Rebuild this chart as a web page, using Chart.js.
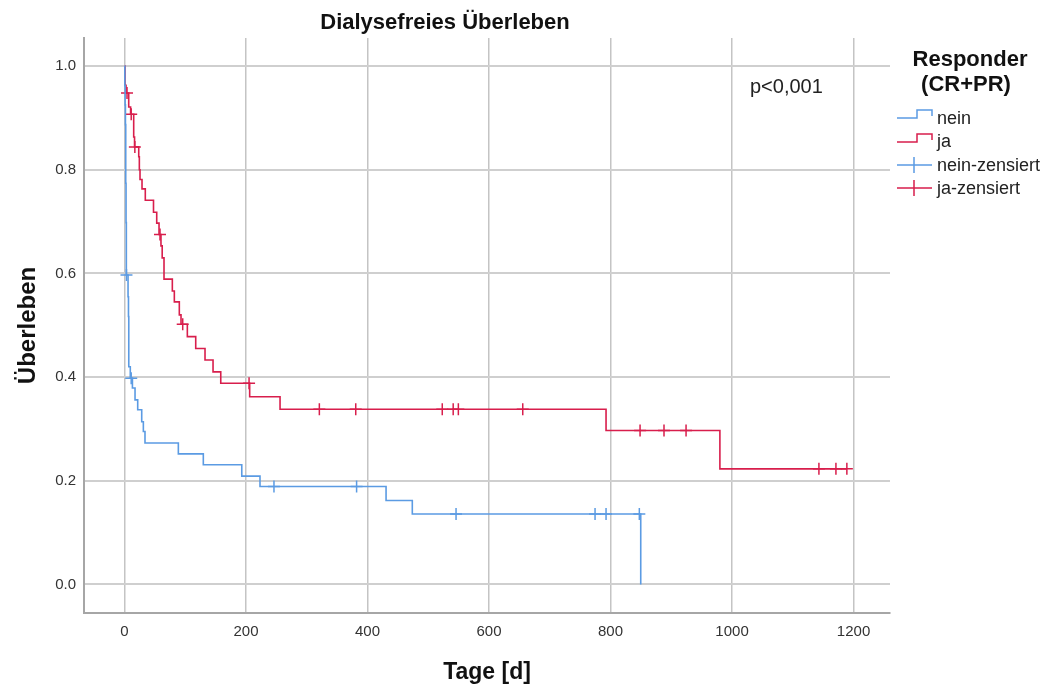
<!DOCTYPE html>
<html>
<head>
<meta charset="utf-8">
<script src="https://cdn.jsdelivr.net/npm/chart.js@4.4.1/dist/chart.umd.min.js"></script>
<style>
  html, body { margin: 0; padding: 0; background: #fff; }
  #wrap { width: 1051px; height: 688px; }
</style>
</head>
<body>
<div id="wrap"><canvas id="kmChart"></canvas></div>
<script>
// Kaplan-Meier steps: day of the step, survival after it
const neinTimes = [0, 0.5, 1, 1.5, 2, 2.5, 3, 5.8, 6.5, 7, 9.5, 13, 17.3, 21.7, 28.3, 31, 33.7, 88.6, 129.7, 193, 223, 430.5, 473.7, 849.7];
const neinSurv  = [1.0, 0.962, 0.925, 0.887, 0.774, 0.698, 0.597, 0.555, 0.517, 0.42, 0.398, 0.379, 0.356, 0.337, 0.314, 0.295, 0.273, 0.252, 0.231, 0.209, 0.189, 0.162, 0.136, 0.0];
const neinCensored = [3.2, 11, 246, 382, 545.7, 774.5, 792.6, 847.4];

const jaTimes = [0, 0.8, 2.5, 6.9, 10, 15.1, 16.5, 23.4, 24.4, 25.5, 28.8, 34.2, 47.7, 53, 56.8, 60, 62, 65, 78.7, 82, 90.2, 93, 103.4, 117.2, 132.5, 145.7, 158.4, 206, 256, 792.6, 980];
const jaSurv  = [1.0, 0.963, 0.948, 0.921, 0.907, 0.863, 0.844, 0.825, 0.80, 0.781, 0.763, 0.741, 0.718, 0.697, 0.675, 0.653, 0.630, 0.589, 0.566, 0.545, 0.520, 0.502, 0.478, 0.455, 0.433, 0.410, 0.388, 0.362, 0.338, 0.297, 0.223];
const jaCensored = [4.1, 11, 17, 58.4, 95.8, 205, 320.7, 380.6, 523, 541, 549.5, 655.5, 848.6, 888, 924.3, 1143, 1171, 1189];

const xTicks = [0, 200, 400, 600, 800, 1000, 1200];
const yTicks = [0, 0.2, 0.4, 0.6, 0.8, 1.0];

const blue = '#5b9be3';
const red = '#d81e4c';
const fontFamily = '"Liberation Sans", Arial, sans-serif';

function survAt(times, surv, t) {
    let s = surv[0];
    for (let i = 0; i < times.length; i++) {
        if (times[i] <= t) s = surv[i];
    }
    return s;
}

function stepPoints(times, surv, censored) {
    const pts = times.map((t, i) => ({ x: t, y: surv[i] }));
    const lastCens = Math.max(...censored);
    if (lastCens > times[times.length - 1]) {
        pts.push({ x: lastCens, y: surv[surv.length - 1] });
    }
    return pts;
}

function censPoints(times, surv, censored) {
    return censored.map(t => ({ x: t, y: survAt(times, surv, t) }));
}

// legend, p value
const overlayPlugin = {
    id: 'overlay',
    afterDraw(chart) {
        const ctx = chart.ctx;
        const r = chart.chartArea.right;
        ctx.save();
        ctx.fillStyle = '#222';
        ctx.font = '20px ' + fontFamily;
        ctx.textAlign = 'left';
        ctx.textBaseline = 'alphabetic';
        ctx.fillText('p<0,001', 750, 93);

        ctx.font = 'bold 22px ' + fontFamily;
        ctx.fillStyle = '#111';
        ctx.textAlign = 'center';
        ctx.fillText('Responder', 970, 66);
        ctx.fillText('(CR+PR)', 966, 91);

        const x0 = r + 7;
        ctx.lineWidth = 1.5;
        // step icons
        [[blue, 118], [red, 142]].forEach(([c, y]) => {
            ctx.strokeStyle = c;
            ctx.beginPath();
            ctx.moveTo(x0, y);
            ctx.lineTo(x0 + 20, y);
            ctx.lineTo(x0 + 20, y - 8);
            ctx.lineTo(x0 + 35, y - 8);
            ctx.lineTo(x0 + 35, y - 2);
            ctx.stroke();
        });
        // censored icons
        [[blue, 165], [red, 188]].forEach(([c, y]) => {
            ctx.strokeStyle = c;
            ctx.beginPath();
            ctx.moveTo(x0, y);
            ctx.lineTo(x0 + 35, y);
            ctx.moveTo(x0 + 17, y - 8);
            ctx.lineTo(x0 + 17, y + 8);
            ctx.stroke();
        });
        ctx.fillStyle = '#222';
        ctx.font = '18px ' + fontFamily;
        ctx.textAlign = 'left';
        ctx.fillText('nein', x0 + 40, 124);
        ctx.fillText('ja', x0 + 40, 147);
        ctx.fillText('nein-zensiert', x0 + 40, 171);
        ctx.fillText('ja-zensiert', x0 + 40, 194);
        ctx.restore();
    }
};

document.addEventListener('DOMContentLoaded', function() {
    const ctx = document.getElementById('kmChart').getContext('2d');
    new Chart(ctx, {
        type: 'line',
        data: {
            datasets: [
                {
                    label: 'nein',
                    data: stepPoints(neinTimes, neinSurv, neinCensored),
                    borderColor: blue,
                    borderWidth: 1.6,
                    stepped: 'before',
                    pointRadius: 0,
                    fill: false
                },
                {
                    label: 'ja',
                    data: stepPoints(jaTimes, jaSurv, jaCensored),
                    borderColor: red,
                    borderWidth: 1.6,
                    stepped: 'before',
                    pointRadius: 0,
                    fill: false
                },
                {
                    label: 'nein-zensiert',
                    type: 'scatter',
                    data: censPoints(neinTimes, neinSurv, neinCensored),
                    pointStyle: 'cross',
                    pointRadius: 6,
                    borderColor: blue,
                    borderWidth: 1.5,
                    showLine: false
                },
                {
                    label: 'ja-zensiert',
                    type: 'scatter',
                    data: censPoints(jaTimes, jaSurv, jaCensored),
                    pointStyle: 'cross',
                    pointRadius: 6,
                    borderColor: red,
                    borderWidth: 1.5,
                    showLine: false
                }
            ]
        },
        options: {
            responsive: true,
            maintainAspectRatio: false,
            animation: false,
            layout: { padding: { top: 0, right: 161, bottom: 0, left: 0 } },
            plugins: {
                legend: { display: false },
                tooltip: { enabled: false },
                title: {
                    display: true,
                    fullSize: true,
                    text: 'Dialysefreies Überleben',
                    color: '#111',
                    font: { family: fontFamily, size: 22, weight: 'bold' },
                    padding: { top: 10, bottom: 1.6 }
                }
            },
            scales: {
                x: {
                    type: 'linear',
                    min: -66.7,
                    max: 1260,
                    afterFit: s => { s.height = 75; },
                    afterBuildTicks: s => { s.ticks = xTicks.map(v => ({ value: v })); },
                    grid: { color: '#c4c4c4', lineWidth: 1.5, drawTicks: false },
                    border: { display: true, color: '#a6a6a6', width: 2 },
                    ticks: {
                        color: '#333',
                        font: { family: fontFamily, size: 15 },
                        padding: 10,
                        maxRotation: 0,
                        callback: v => String(v)
                    },
                    title: {
                        display: true,
                        text: 'Tage [d]',
                        color: '#111',
                        font: { family: fontFamily, size: 23, weight: 'bold' },
                        padding: { top: 0, bottom: 2 }
                    }
                },
                y: {
                    type: 'linear',
                    min: -0.055,
                    max: 1.054,
                    afterFit: s => { s.width = 84; },
                    afterBuildTicks: s => { s.ticks = yTicks.map(v => ({ value: v })); },
                    grid: { color: '#cfcfcf', lineWidth: 2, drawTicks: false },
                    border: { display: true, color: '#a6a6a6', width: 2 },
                    ticks: {
                        color: '#333',
                        font: { family: fontFamily, size: 15 },
                        padding: 8,
                        callback: v => v.toFixed(1)
                    },
                    title: {
                        display: true,
                        text: 'Überleben',
                        color: '#111',
                        font: { family: fontFamily, size: 24, weight: 'bold' },
                        padding: { top: 14, bottom: 0 }
                    }
                }
            }
        },
        plugins: [overlayPlugin]
    });
});
</script>
</body>
</html>
